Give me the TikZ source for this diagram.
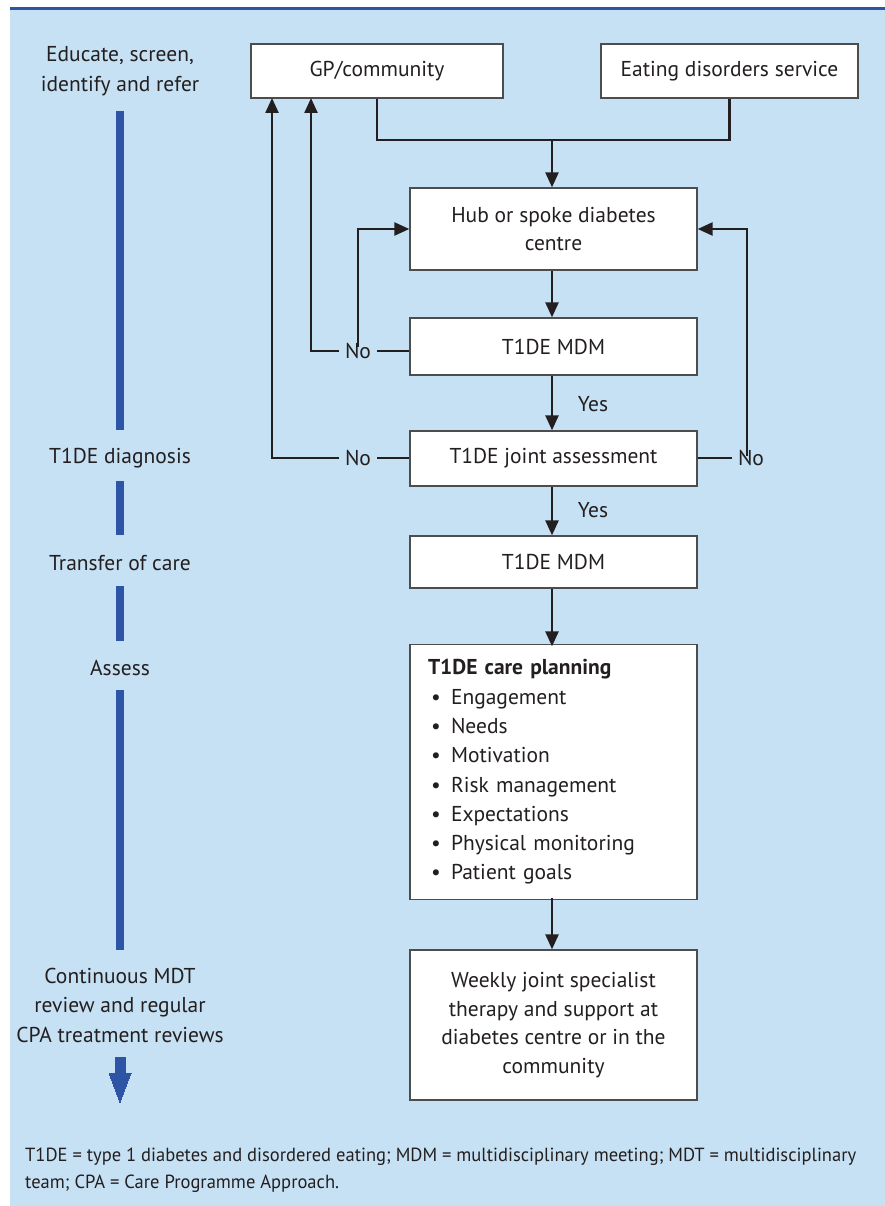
\documentclass[tikz,border=0pt]{standalone}
\usepackage{fontspec}
\setmainfont{PT Sans}
\usetikzlibrary{arrows.meta,calc}
\definecolor{bgblue}{HTML}{C7E1F4}
\definecolor{barblue}{HTML}{2E55A5}
\definecolor{ink}{HTML}{231F20}
\definecolor{boxline}{HTML}{4D4D4F}
\newcommand{\bulletitem}{\hspace*{3pt}\makebox[20pt][l]{•}}
\begin{document}
\begin{tikzpicture}[x=1pt,y=-1pt,
  box/.style={draw=boxline,line width=1.3pt,fill=white,inner sep=0pt,minimum width=287pt,align=center,text=ink,font=\fontsize{21.5}{28}\selectfont},
  lab/.style={text=ink,align=center,font=\fontsize{21.5}{29.5}\selectfont,inner sep=0pt},
  conn/.style={draw=ink,line width=2.4pt},
  arr/.style={conn,-{Triangle[length=15pt,width=13pt]}},
  bar/.style={draw=barblue,line width=8pt}]
\useasboundingbox (0,0) rectangle (885,1206);
\fill[white] (0,0) rectangle (885,1206);
\fill[bgblue] (10,10) rectangle (885,1206);
\draw[barblue,line width=2.5pt] (10,8.5) -- (885,8.5);

% main boxes
\node[box,minimum width=252pt,minimum height=54pt] (gp) at (377,71) {GP/community};
\node[box,minimum width=257pt,minimum height=54pt] (ed) at (729.5,71) {Eating disorders service};
\node[box,minimum height=82pt] (hub) at (553.5,229) {Hub or spoke diabetes\\centre};
\node[box,minimum height=57pt] (mdm1) at (553.5,346.5) {T1DE MDM};
\node[box,minimum height=55pt] (joint) at (553.5,458.5) {T1DE joint assessment};
\node[box,minimum height=52pt] (mdm2) at (553.5,562) {T1DE MDM};
\node[box,minimum height=255pt,text width=251pt,align=left,font=\fontsize{21.5}{29.3}\selectfont] (care) at (553.5,772) {%
\textbf{T1DE care planning}\\
\bulletitem Engagement\\
\bulletitem Needs\\
\bulletitem Motivation\\
\bulletitem Risk management\\
\bulletitem Expectations\\
\bulletitem Physical monitoring\\
\bulletitem Patient goals};
\node[box,minimum height=150pt,font=\fontsize{21.5}{28.5}\selectfont] (weekly) at (553.5,1025) {Weekly joint specialist\\therapy and support at\\diabetes centre or in the\\community};

% labels on connectors
\node[lab] (no1) at (358,351) {No};
\node[lab] (no2) at (358,458) {No};
\node[lab] (no3) at (751,458) {No};
\node[lab] (yes1) at (593,404) {Yes};
\node[lab] (yes2) at (593,510) {Yes};

% top merge
\coordinate (j) at (552,140);
\draw[conn] (gp.south) |- (j) -| (ed.south);
\draw[arr] (j) -- (hub.north -| j);

% main flow
\draw[arr] (hub.south -| j) -- (mdm1.north -| j);
\draw[arr] (mdm1.south -| j) -- (joint.north -| j);
\draw[arr] (joint.south -| j) -- (mdm2.north -| j);
\draw[arr] (mdm2.south -| j) -- ([yshift=-2.5pt]care.north -| j);
\draw[arr] ([yshift=2.5pt]care.south -| j) -- (weekly.north -| j);

% No branches
\coordinate (g1) at (311,98);
\coordinate (g2) at (272,98);
\draw[conn] (mdm1.west |- no1) -- ([xshift=6pt]no1.east);
\draw[arr] ([xshift=-6pt]no1.west) -| (g1);
\draw[arr] ([yshift=-4pt]no1.north) |- (hub.west);
\draw[conn] (joint.west |- no2) -- ([xshift=6pt]no2.east);
\draw[arr] ([xshift=-6pt]no2.west) -| (g2);
\draw[conn] (joint.east |- no3) -- ([xshift=-6pt]no3.west);
\draw[arr] ([xshift=-4pt,yshift=-6pt]no3.north) |- (hub.east);

% left column
\node[lab] (s1) at (120,71) {Educate, screen,\\identify and refer};
\node[lab] (s2) at (120,458) {T1DE diagnosis};
\node[lab] (s3) at (120,563) {Transfer of care};
\node[lab] (s4) at (120,668) {Assess};
\node[lab] (s5) at (120,1005) {Continuous MDT\\review and regular\\CPA treatment reviews};
\draw[bar] (120,111) -- (120,430);
\draw[bar] (120,481) -- (120,535);
\draw[bar] (120,586) -- (120,641);
\draw[bar] (120,690) -- (120,950);
\draw[draw=barblue,fill=barblue,line width=0pt] (115,1057) -- (125,1057) -- (125,1073) -- (131,1073) -- (120,1102) -- (109,1073) -- (115,1073) -- cycle;

% footnote
\node[anchor=west,text=ink,inner sep=0pt,font=\fontsize{19}{27}\selectfont] (fn1) at (25,1157) {\scalebox{0.975}[1]{T1DE = type 1 diabetes and disordered eating; MDM = multidisciplinary meeting; MDT = multidisciplinary}};
\node[anchor=west,text=ink,inner sep=0pt,font=\fontsize{19}{27}\selectfont] (fn2) at (25,1184) {\scalebox{0.975}[1]{team; CPA = Care Programme Approach.}};
\end{tikzpicture}
\end{document}
